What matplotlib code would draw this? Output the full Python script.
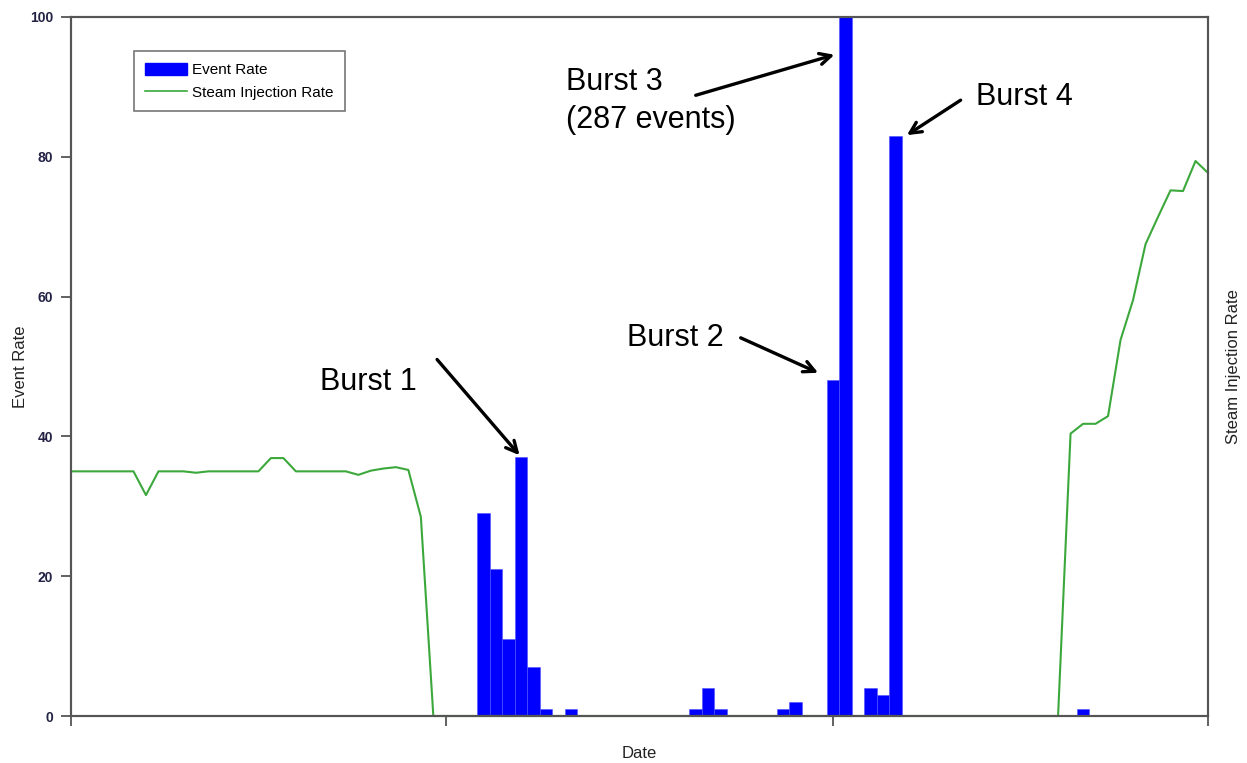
import matplotlib
matplotlib.use("Agg")
import matplotlib.pyplot as plt
from matplotlib.patches import Patch
from matplotlib.lines import Line2D

plt.rcParams["font.family"] = ["Liberation Sans", "DejaVu Sans"]

# Données (jours depuis le début de la période)
event_days = [33, 34, 35, 36, 37, 38, 40, 50, 51, 52, 57, 58, 61, 62, 64, 65, 66, 81]
event_counts = [29, 21, 11, 37, 7, 1, 1, 1, 4, 1, 1, 2, 48, 287, 4, 3, 83, 1]

steam_days = [0, 5, 6, 7, 9, 10, 11, 15, 16, 17, 18, 22, 23, 24, 25, 26, 27, 28, 29,
              79, 80, 81, 82, 83, 84, 85, 86, 87, 88, 89, 90, 91]
steam_rate = [35, 35, 31.6, 35, 35, 34.8, 35, 35, 36.9, 36.9, 35, 35, 34.5, 35.1, 35.4,
              35.6, 35.2, 28.5, 0, 0, 40.4, 41.8, 41.8, 42.9, 53.8, 59.5, 67.5, 71.4,
              75.2, 75.1, 79.4, 77.7]

month_ticks = [0, 30, 61, 91]
y_ticks = [0, 20, 40, 60, 80, 100]

blue = "#0000ff"
green = "#3ca83c"
axis_col = "#555555"

fig = plt.figure(figsize=(12.47, 7.63), dpi=100)
ax = fig.add_axes([71 / 1247, 47 / 763, 1137 / 1247, 699 / 763])

ax.bar(event_days, event_counts, width=1.0, color=blue, edgecolor="#5050ff",
       linewidth=0.4)
ax.set_xlim(0, 91)
ax.set_ylim(0, 100)
ax.set_xticks(month_ticks)
ax.set_xticklabels([])
ax.set_yticks(y_ticks)
ax.tick_params(axis="both", direction="out", length=7, width=1.3, color=axis_col)
ax.tick_params(axis="y", labelsize=10, labelcolor="#222244", pad=6)
for lab in ax.get_yticklabels():
    lab.set_fontweight("bold")
for sp in ax.spines.values():
    sp.set_color(axis_col)
    sp.set_linewidth(1.5)
ax.set_ylabel("Event Rate", fontsize=12, color="#222222", labelpad=1.5)
ax.set_xlabel("Date", fontsize=12, color="#222222", labelpad=11)

ax2 = ax.twinx()
ax2.plot(steam_days, steam_rate, color=green, linewidth=1.5, clip_on=False)
ax2.set_ylim(0, 100)
ax2.set_yticks([])
for sp in ax2.spines.values():
    sp.set_color(axis_col)
    sp.set_linewidth(1.5)
ax2.set_ylabel("Steam Injection Rate", fontsize=12, color="#222222", labelpad=13)

handles = [Patch(facecolor=blue, edgecolor=blue),
           Line2D([0], [0], color=green, linewidth=1.2)]
leg = ax2.legend(handles, ["Event Rate", "Steam Injection Rate"],
                 loc="upper left", bbox_to_anchor=(0.0554, 0.951), borderaxespad=0,
                 fontsize=11, frameon=True, fancybox=False, edgecolor="#555555",
                 handlelength=2.7, handleheight=0.9, borderpad=0.75,
                 labelspacing=0.5, handletextpad=0.35)
leg.get_frame().set_linewidth(1.2)

# Annotations
arrow = dict(arrowstyle="->,head_length=0.8,head_width=0.4", color="black", lw=2.4,
             shrinkA=0, shrinkB=0)
txt = dict(fontsize=22, color="black", va="center", ha="left")

ax2.text(19.9, 47.8, "Burst 1", **txt)
ax2.annotate("", xy=(35.9, 37.3), xytext=(29.3, 51.0), arrowprops=arrow)

ax2.text(44.5, 54.1, "Burst 2", **txt)
ax2.annotate("", xy=(59.8, 49.1), xytext=(53.6, 54.1), arrowprops=arrow)

ax2.text(39.6, 88.0, "Burst 3\n(287 events)", linespacing=1.32, **txt)
ax2.annotate("", xy=(61.1, 94.6), xytext=(50.0, 88.8), arrowprops=arrow)

ax2.text(72.4, 88.6, "Burst 4", **txt)
ax2.annotate("", xy=(66.9, 83.1), xytext=(71.2, 88.1), arrowprops=arrow)

fig.savefig("out.png", dpi=100)
